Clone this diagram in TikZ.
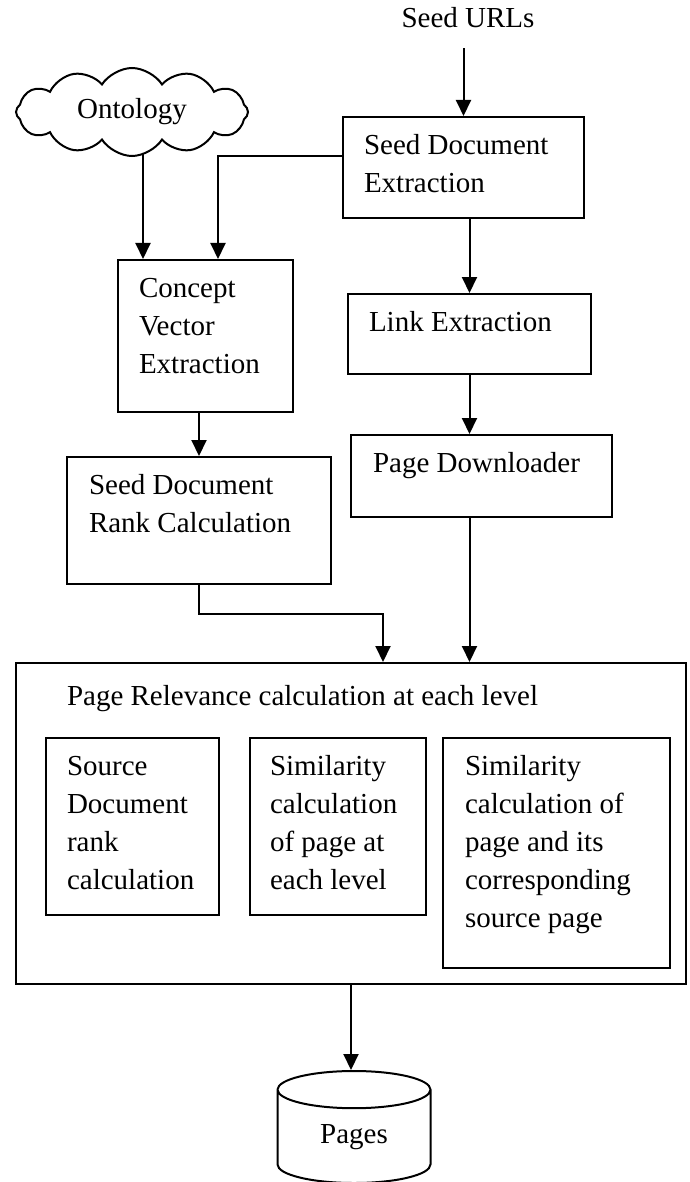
\documentclass[tikz,border=0pt]{standalone}
\usepackage{fontspec}
\setmainfont{Liberation Serif}
\usetikzlibrary{shapes.symbols,shapes.geometric,arrows.meta,backgrounds}

% text box: width, height, lines
\newcommand{\boxtxt}[3]{\parbox[t][#2][t]{#1}{\raggedright\strut#3}}

\tikzset{
  blk/.style={draw, line width=2pt, anchor=north west, inner xsep=21pt, inner ysep=11pt},
  arr/.style={line width=2pt, -{Triangle[length=16pt,width=15pt]}},
}

\begin{document}
\begin{tikzpicture}[x=1pt, y=-1pt, font=\fontsize{29}{38}\selectfont]
            \useasboundingbox (0,0) rectangle (689,1182);

            \node[anchor=base, inner sep=0pt] (urls) at (468,28) {Seed URLs};
            \node[cloud, draw, line width=2pt, fill=white, cloud puffs=12, cloud puff arc=115,
                  aspect=2.6, minimum width=232pt, minimum height=88pt, inner sep=0pt] (onto) at (132,112) {Ontology};

            \node[blk] (sde) at (342,116) {\boxtxt{199pt}{79pt}{Seed Document\\Extraction}};
            \node[blk] (cve) at (117,259) {\boxtxt{133pt}{130pt}{Concept\\Vector\\Extraction}};
            \node[blk] (lex) at (347,293) {\boxtxt{201pt}{58pt}{Link Extraction}};
            \node[blk, inner xsep=22pt] (pdl) at (350,434) {\boxtxt{217pt}{60pt}{Page Downloader}};
            \node[blk, inner xsep=22pt] (sdr) at (66,456) {\boxtxt{220pt}{105pt}{Seed Document\\Rank Calculation}};

            % page relevance block
            \node[blk, inner xsep=51pt, inner ysep=16pt] (prc) at (15,662) {\boxtxt{568pt}{289pt}{Page Relevance calculation at each level}};
            \node[blk] (sdc) at (45,737) {\boxtxt{131pt}{155pt}{Source\\Document\\rank\\calculation}};
            \node[blk, inner xsep=20pt] (spl) at (249,737) {\boxtxt{136pt}{155pt}{Similarity\\calculation\\of page at\\each level}};
            \node[blk, inner xsep=22pt] (spc) at (442,737) {\boxtxt{183pt}{208pt}{Similarity\\calculation of\\page and its\\corresponding\\source page}};

            \node[cylinder, draw, line width=2pt, shape border rotate=90, aspect=0.55, anchor=north,
                  minimum width=153pt, minimum height=112pt, inner sep=0pt] (pages) at (354,1070) {Pages};

            \draw[arr, shorten <=20pt] (sde.north |- urls.south) -- (sde.north);
            \begin{scope}[on background layer]
              \draw[arr] ([xshift=11pt]onto.center) -- ([xshift=11pt]onto.center |- cve.north);
            \end{scope}
            \draw[arr] ([yshift=11.5pt]sde.west) -| ([xshift=101pt]cve.north west);
            \draw[arr] (lex.north |- sde.south) -- (lex.north);
            \draw[arr] (cve.south -| sdr.north) -- (sdr.north);
            \draw[arr] (lex.south) -- (lex.south |- pdl.north);
            \draw[arr] (lex.south |- pdl.south) -- (lex.south |- prc.north);
            \draw[arr] (sdr.south) -- ++(0,29) -| ([xshift=32pt]prc.north);
            \draw[arr] (prc.south) -- (prc.south |- pages.north);
          \end{tikzpicture}
\end{document}
